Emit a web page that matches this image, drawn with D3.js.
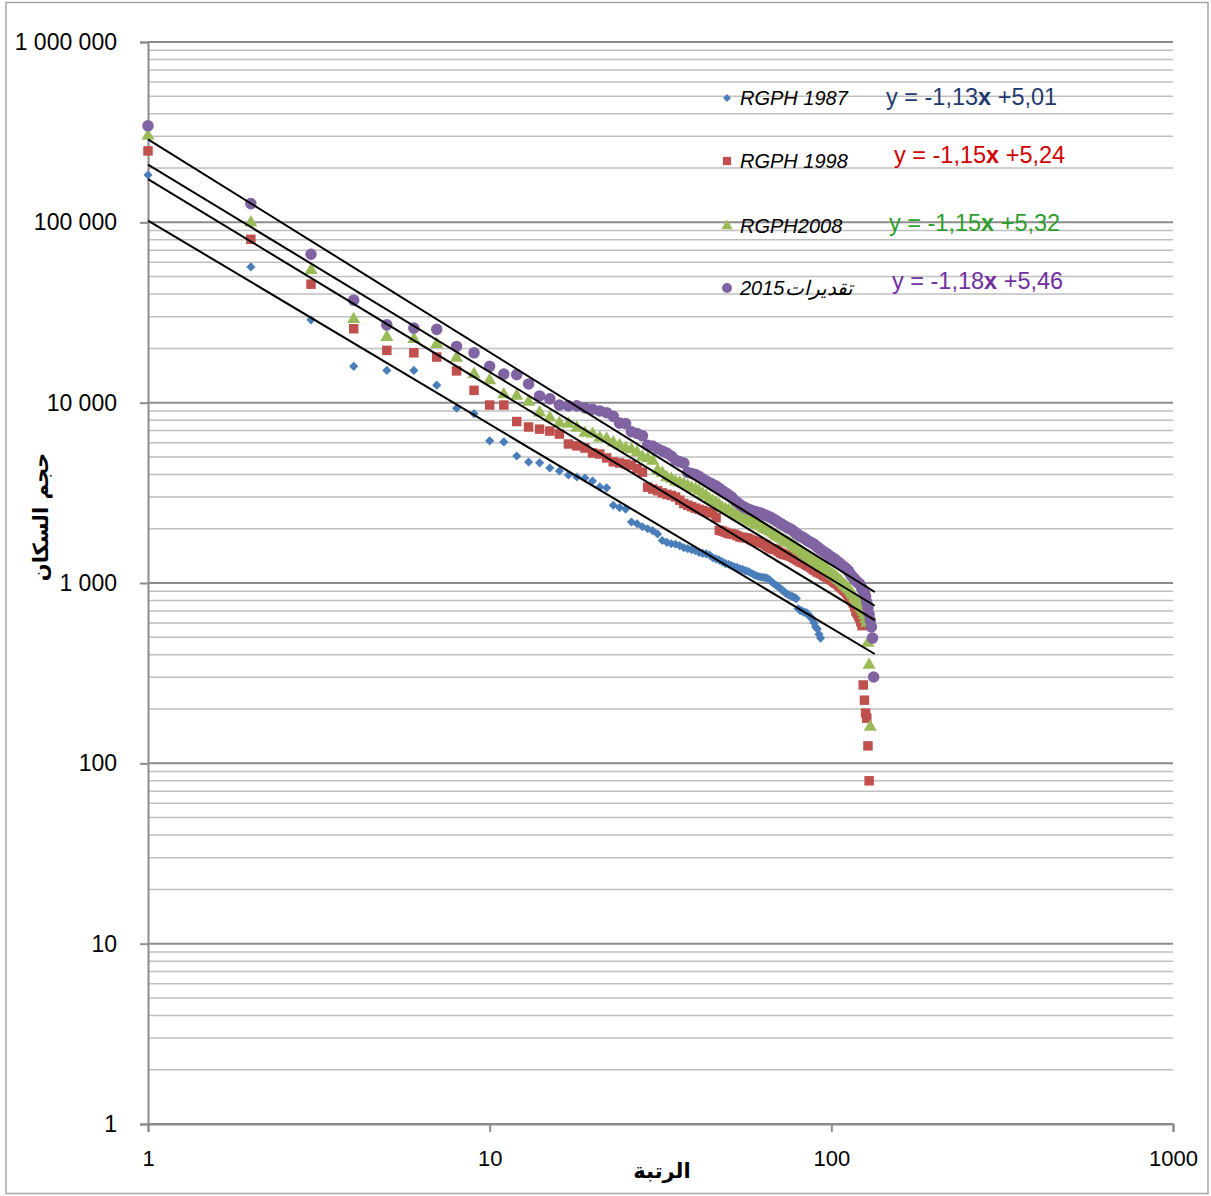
<!DOCTYPE html>
<html>
<head>
<meta charset="utf-8">
<script src="https://cdn.jsdelivr.net/npm/d3@7"></script>
<style>
  body { margin: 0; background: #fff; }
  svg { display: block; }
  .tick text { font-family: "Liberation Sans", Arial, sans-serif; fill: #000; }
  .legend text { font-family: "Liberation Sans", Arial, sans-serif; }
  .axis-title { font-family: "DejaVu Sans", "Liberation Sans", sans-serif; font-weight: bold; }
</style>
</head>
<body>
<svg id="chart" width="1211" height="1196"></svg>
<script>
// Rank-size distribution (log-log), four population counts
const names = ["RGPH 1987", "RGPH 1998", "RGPH2008", "2015تقديرات"];
const colors = ["#4A7EBB", "#C0504D", "#9BBB59", "#8064A2"];
const eqColors = ["#1F3A6E", "#D00000", "#2E9E2E", "#7030A0"];
const slopes = [-1.13, -1.15, -1.15, -1.18];
const intercepts = [5.01, 5.24, 5.32, 5.46];
const yTicks = [1, 10, 100, 1000, 10000, 100000, 1000000];
const xTicks = [1, 10, 100, 1000];

// population by rank (rank = index + 1)
const pop1987 = [
  183000, 56600, 28800, 15900, 15100, 15100, 12500, 9310, 8690, 6140,
  6060, 5060, 4690, 4640, 4340, 4180, 3970, 3870, 3820, 3680,
  3410, 3370, 2700, 2620, 2570, 2180, 2130, 2050, 2000, 1950,
  1870, 1720, 1680, 1650, 1640, 1610, 1570, 1550, 1530, 1510,
  1480, 1460, 1450, 1430, 1380, 1360, 1340, 1310, 1280, 1270,
  1250, 1230, 1220, 1200, 1190, 1170, 1160, 1140, 1120, 1100,
  1090, 1080, 1075, 1070, 1060, 1040, 1010, 990, 970, 950,
  930, 910, 890, 870, 860, 850, 840, 830, 820, 720,
  705, 700, 690, 685, 680, 660, 645, 630, 600, 570,
  556, 520, 495
];
const pop1998 = [
  249000, 80500, 45400, 25700, 19500, 18900, 17900, 15000, 11700, 9700,
  9700, 7860, 7330, 7130, 6960, 6700, 5900, 5760, 5600, 5260,
  5190, 4940, 4700, 4630, 4570, 4500, 4300, 4120, 3400, 3320,
  3250, 3160, 3100, 3060, 3000, 2880, 2760, 2700, 2650, 2600,
  2560, 2520, 2480, 2460, 2440, 2300, 1960, 1940, 1910, 1880,
  1870, 1860, 1830, 1800, 1790, 1780, 1770, 1740, 1720, 1700,
  1690, 1680, 1660, 1630, 1600, 1570, 1550, 1540, 1530, 1500,
  1470, 1450, 1440, 1430, 1420, 1410, 1390, 1370, 1350, 1330,
  1310, 1300, 1290, 1270, 1250, 1240, 1220, 1200, 1180, 1170,
  1150, 1140, 1130, 1120, 1100, 1090, 1080, 1070, 1050, 1040,
  1030, 1010, 1000, 990, 970, 960, 940, 930, 910, 900,
  880, 860, 840, 820, 795, 770, 740, 700, 680, 660,
  640, 610, 580, 272, 224, 190, 178, 125, 80
];
const pop2008 = [
  301000, 99600, 54200, 29000, 23100, 22500, 21100, 17700, 14400, 13300,
  11100, 10900, 10100, 8800, 8250, 7700, 7620, 7250, 6790, 6700,
  6380, 6290, 6000, 5800, 5600, 5500, 5300, 5000, 4900, 4750,
  4200, 4080, 3850, 3780, 3650, 3600, 3540, 3450, 3370, 3320,
  3230, 3120, 3040, 2920, 2850, 2780, 2700, 2600, 2560, 2530,
  2480, 2410, 2370, 2330, 2300, 2260, 2210, 2180, 2150, 2120,
  2090, 2060, 2020, 1990, 1960, 1930, 1900, 1860, 1820, 1800,
  1770, 1740, 1710, 1690, 1670, 1650, 1620, 1590, 1560, 1530,
  1510, 1480, 1450, 1430, 1410, 1390, 1370, 1350, 1330, 1310,
  1290, 1270, 1250, 1230, 1210, 1200, 1180, 1160, 1140, 1120,
  1110, 1090, 1080, 1060, 1040, 1030, 1010, 990, 975, 960,
  945, 930, 915, 890, 870, 850, 830, 810, 790, 770,
  750, 730, 715, 690, 660, 630, 600, 465, 351, 159
];
const pop2015 = [
  343000, 127000, 66500, 37000, 27000, 25900, 25500, 20500, 18900, 15900,
  14400, 14300, 12700, 10900, 10500, 9700, 9600, 9600, 9350, 9200,
  9000, 8800, 8400, 7700, 7650, 6900, 6750, 6550, 5800, 5750,
  5550, 5400, 5250, 5060, 4800, 4700, 4620, 4100, 4050, 4000,
  3900, 3780, 3680, 3600, 3520, 3450, 3350, 3250, 3160, 3080,
  3000, 2880, 2800, 2720, 2660, 2610, 2570, 2540, 2510, 2490,
  2460, 2440, 2410, 2380, 2350, 2320, 2290, 2250, 2210, 2180,
  2140, 2100, 2070, 2040, 2010, 1990, 1960, 1920, 1880, 1850,
  1820, 1800, 1780, 1750, 1720, 1700, 1680, 1660, 1640, 1610,
  1580, 1560, 1530, 1510, 1490, 1470, 1450, 1430, 1410, 1390,
  1375, 1360, 1340, 1320, 1300, 1280, 1260, 1240, 1225, 1210,
  1190, 1170, 1140, 1110, 1090, 1070, 1050, 1030, 1010, 1000,
  990, 960, 930, 900, 880, 840, 780, 725, 670, 620,
  570, 495, 301
];
const series = [pop1987, pop1998, pop2008, pop2015];
const trendEnd = 134;

const svg = d3.select("#chart");
const plot = { left: 148, right: 1173, top: 42, bottom: 1124 };

const x = d3.scaleLog().domain([1, 1000]).range([plot.left, plot.right]);
const y = d3.scaleLog().domain([1, 1e6]).range([plot.bottom, plot.top]);

// outer frame
svg.append("rect")
  .attr("x", 6).attr("y", 2.5)
  .attr("width", 1202).attr("height", 1191)
  .attr("fill", "none")
  .attr("stroke", "#A6A6A6")
  .attr("stroke-width", 1.5);

// horizontal grid: minor (2..9) light, decades darker
const gridVals = [];
yTicks.forEach((d) => {
  if (d < 1e6) d3.range(2, 10).forEach((m) => gridVals.push(m * d));
});
svg.append("g")
  .selectAll("line")
  .data(gridVals)
  .enter()
  .append("line")
  .attr("x1", plot.left).attr("x2", plot.right)
  .attr("y1", (d) => y(d)).attr("y2", (d) => y(d))
  .attr("stroke", "#BFBFBF")
  .attr("stroke-width", 1.5);

svg.append("g")
  .selectAll("line")
  .data(yTicks)
  .enter()
  .append("line")
  .attr("x1", plot.left).attr("x2", plot.right)
  .attr("y1", (d) => y(d)).attr("y2", (d) => y(d))
  .attr("stroke", "#8C8C8C")
  .attr("stroke-width", 2);

// axes
const spaceFmt = d3.formatLocale({ decimal: ",", thousands: " ", grouping: [3], currency: ["", ""] }).format(",d");

const yAxisG = svg.append("g")
  .attr("transform", `translate(${plot.left},0)`)
  .call(d3.axisLeft(y).tickValues(yTicks).tickFormat(spaceFmt).tickSize(8).tickPadding(23));
yAxisG.selectAll(".domain").attr("stroke", "#8C8C8C").attr("stroke-width", 2);
yAxisG.selectAll(".tick line").attr("stroke", "#8C8C8C").attr("stroke-width", 2);
yAxisG.selectAll(".tick text").style("font-size", "23px");

const xAxisG = svg.append("g")
  .attr("transform", `translate(0,${plot.bottom})`)
  .call(d3.axisBottom(x).tickValues(xTicks).tickFormat(d3.format("d")).tickSize(8).tickPadding(18));
xAxisG.selectAll(".domain").attr("stroke", "#8C8C8C").attr("stroke-width", 2);
xAxisG.selectAll(".tick line").attr("stroke", "#8C8C8C").attr("stroke-width", 2);
xAxisG.selectAll(".tick text").style("font-size", "22px");

// axis titles
svg.append("text")
  .attr("class", "axis-title")
  .attr("x", 662).attr("y", 1178)
  .attr("text-anchor", "middle")
  .style("font-size", "21px")
  .text("الرتبة");

svg.append("text")
  .attr("class", "axis-title")
  .attr("transform", "translate(48,517) rotate(-90)")
  .attr("text-anchor", "middle")
  .style("font-size", "21px")
  .text("حجم السكان");

// points (diamond = square turned 45°, like Excel)
const shapes = [d3.symbolSquare, d3.symbolSquare, d3.symbolTriangle, d3.symbolCircle];
const sizes = [42, 90, 75, 105];
const rotations = [45, 0, 0, 0];

series.forEach((vals, i) => {
  svg.append("g")
    .selectAll("path")
    .data(vals)
    .enter()
    .append("path")
    .attr("transform", (d, k) => `translate(${x(k + 1)},${y(d)}) rotate(${rotations[i]})`)
    .attr("d", d3.symbol().type(shapes[i]).size(sizes[i]))
    .attr("fill", colors[i]);
});

// power trend lines: log10(y) = a*log10(x) + b
const trendLine = d3.line()
  .x((d) => x(d[0]))
  .y((d) => y(d[1]));
slopes.forEach((a, i) => {
  const pts = [1, trendEnd].map((r) => [r, Math.pow(10, a * Math.log10(r) + intercepts[i])]);
  svg.append("path")
    .attr("d", trendLine(pts))
    .attr("fill", "none")
    .attr("stroke", "#000")
    .attr("stroke-width", 2);
});

// legend + equations
const legendY = [98, 161, 226, 288];
const eqPos = [[886, 97], [894, 155], [889, 223], [892, 281]];
const legend = svg.append("g").attr("class", "legend");
names.forEach((name, i) => {
  legend.append("path")
    .attr("transform", `translate(727,${legendY[i]}) rotate(${rotations[i]})`)
    .attr("d", d3.symbol().type(shapes[i]).size(sizes[i] * 0.75))
    .attr("fill", colors[i]);
  legend.append("text")
    .attr("x", 740).attr("y", legendY[i] + 7)
    .style("font-size", "20px")
    .style("font-style", "italic")
    .attr("fill", "#000")
    .text(name);

  const fmtNum = (v) => v.toFixed(2).replace(".", ",");
  const eq = legend.append("text")
    .attr("x", eqPos[i][0]).attr("y", eqPos[i][1] + 8)
    .style("font-size", "23.5px")
    .attr("fill", eqColors[i]);
  eq.append("tspan").text(`y = ${fmtNum(slopes[i])}`);
  eq.append("tspan").style("font-weight", "bold").text("x");
  eq.append("tspan").text(` +${fmtNum(intercepts[i])}`);
});
</script>
</body>
</html>
